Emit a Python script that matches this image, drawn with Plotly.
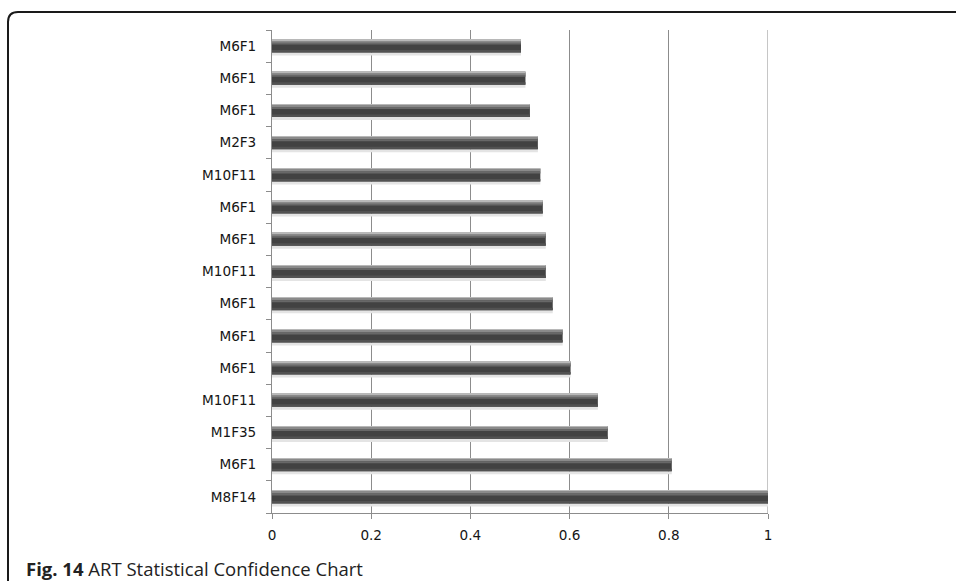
import plotly.graph_objects as go

# Model-feature pairs, listed top to bottom, with their confidence values
labels = ["M6F1", "M6F1", "M6F1", "M2F3", "M10F11", "M6F1", "M6F1", "M10F11",
          "M6F1", "M6F1", "M6F1", "M10F11", "M1F35", "M6F1", "M8F14"]
confidence = [0.502, 0.511, 0.520, 0.536, 0.541, 0.546, 0.552, 0.552,
              0.566, 0.586, 0.602, 0.657, 0.677, 0.806, 1.0]
x_ticks = [0, 0.2, 0.4, 0.6, 0.8, 1]
x_tick_text = ["0", "0.2", "0.4", "0.6", "0.8", "1"]
caption_bold = "Fig. 14"
caption_rest = "ART Statistical Confidence Chart"

W, H = 956, 581
L, R, T, B = 272, 768, 30, 513  # plot area in pixels
pos = list(range(len(labels)))
slot = (B - T) / len(labels)
grid_col = "#8c8c8c"


def px_x(p):
    return (p - L) / (R - L)


def px_y(p):
    return (B - p) / (B - T)


fig = go.Figure()

# Layered bands give each bar a shaded, cylinder-like look.
# (top pixel, bottom pixel, colour) measured from the top of a 13px bar
bands = [
    (13.0, 16.0, "#e4e4e4"),  # soft shadow under the bar
    (0.0, 13.0, "#424242"),
    (0.0, 1.5, "#b8b8b8"),
    (1.5, 3.0, "#8a8a8a"),
    (3.0, 5.0, "#686868"),
    (10.5, 13.0, "#525252"),
]
for top, bot, col in bands:
    fig.add_trace(go.Bar(
        x=confidence, y=pos, orientation="h",
        offset=(top - 6.5) / slot, width=(bot - top) / slot,
        marker=dict(color=col, line=dict(width=0)),
        showlegend=False, hoverinfo="skip",
    ))

fig.update_layout(
    width=W, height=H,
    margin=dict(l=L, r=W - R, t=T, b=H - B),
    barmode="overlay",
    paper_bgcolor="white", plot_bgcolor="white",
    font=dict(family="DejaVu Sans", size=13.6, color="#161616"),
    xaxis=dict(
        range=[0, 1], tickvals=x_ticks, ticktext=x_tick_text,
        showgrid=True, gridcolor=grid_col, gridwidth=1,
        zeroline=False, showline=True, linecolor=grid_col, linewidth=1,
        ticks="outside", ticklen=5, tickcolor=grid_col,
        ticklabelstandoff=5,
    ),
    yaxis=dict(
        range=[len(labels) - 0.5, -0.5], tickvals=pos, ticktext=labels,
        showgrid=False, zeroline=False, showline=True,
        linecolor=grid_col, linewidth=1, ticks="", ticklabelstandoff=12,
        minor=dict(tickvals=[i - 0.5 for i in range(len(labels) + 1)],
                   ticks="outside", ticklen=5, tickcolor=grid_col),
    ),
)

# Gridline at the right end of the value axis
fig.add_shape(type="line", xref="x", yref="paper", x0=1, x1=1, y0=0, y1=1,
              line=dict(color=grid_col, width=1), layer="below")

# Rounded frame around the figure panel
x0, y0, rad = 8, 12, 10
path = (f"M {px_x(x0)} {px_y(H + 10)} L {px_x(x0)} {px_y(y0 + rad)} "
        f"Q {px_x(x0)} {px_y(y0)} {px_x(x0 + rad)} {px_y(y0)} "
        f"L {px_x(W + 10)} {px_y(y0)}")
fig.add_shape(type="path", path=path, xref="paper", yref="paper",
              line=dict(color="#1a1a1a", width=2))

fig.add_annotation(
    x=px_x(24), y=px_y(568), xref="paper", yref="paper",
    xanchor="left", yanchor="middle", showarrow=False,
    text=f"<b>{caption_bold}</b> {caption_rest}",
    font=dict(family="Open Sans", size=18.5, color="#222222"),
)

fig.write_html("out.html")
